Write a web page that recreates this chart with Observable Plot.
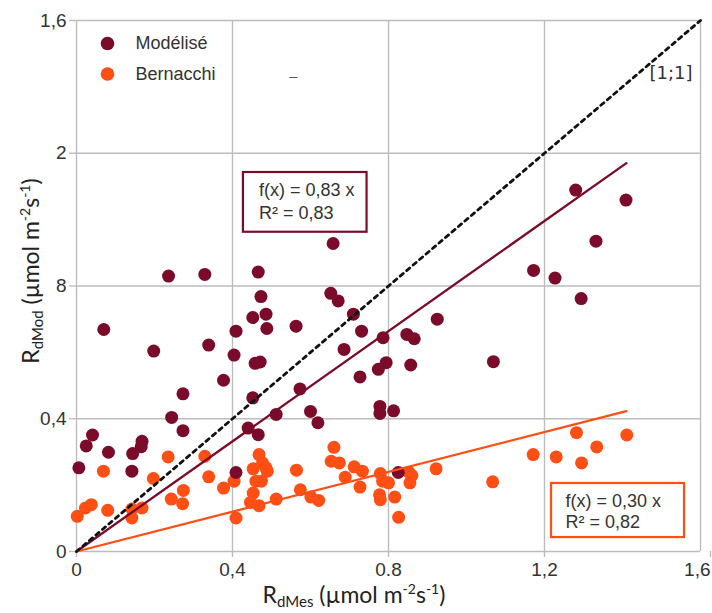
<!DOCTYPE html>
<html>
<head>
<meta charset="utf-8">
<script src="https://cdn.jsdelivr.net/npm/d3@7"></script>
<script src="https://cdn.jsdelivr.net/npm/@observablehq/plot@0.6"></script>
<style>
  html, body { margin: 0; padding: 0; background: #fff; }
  #chart svg { display: block; }
</style>
</head>
<body>
<div id="chart"></div>
<script>
// Series names and their colours
const seriesNames = ["Modélisé", "Bernacchi"];
const seriesColors = ["#7a0b2b", "#ff4f14"];

// Modelled dark respiration vs measured: [RdMes, RdMod]
const modelise = [
  [0.658, 0.928], [0.236, 0.830], [0.329, 0.835], [0.466, 0.842], [0.473, 0.768],
  [0.652, 0.778], [0.671, 0.755], [0.452, 0.705], [0.486, 0.715], [0.488, 0.672],
  [0.563, 0.679], [0.710, 0.715], [0.731, 0.664], [0.070, 0.669], [0.409, 0.664],
  [0.198, 0.604], [0.339, 0.622], [0.404, 0.592], [0.458, 0.567], [0.471, 0.571],
  [0.686, 0.609], [0.786, 0.644], [0.794, 0.569], [0.774, 0.549], [0.727, 0.526],
  [0.377, 0.516], [0.273, 0.475], [0.452, 0.463], [0.573, 0.490], [0.512, 0.413],
  [0.600, 0.422], [0.619, 0.388], [0.778, 0.437], [0.778, 0.416], [0.813, 0.424],
  [0.244, 0.404], [0.273, 0.364], [0.440, 0.372], [0.466, 0.352], [0.041, 0.351],
  [0.025, 0.318], [0.082, 0.299], [0.168, 0.332], [0.166, 0.316], [0.144, 0.295],
  [0.006, 0.252], [0.142, 0.242], [0.409, 0.238], [0.825, 0.238], [1.280, 1.089],
  [1.409, 1.059], [1.332, 0.935], [1.172, 0.847], [1.227, 0.824], [1.294, 0.762],
  [0.925, 0.700], [0.847, 0.654], [0.866, 0.641], [0.857, 0.562], [1.069, 0.572]
];

// Bernacchi model vs measured: [RdMes, RdMod]
const bernacchi = [
  [0.660, 0.314], [0.653, 0.272], [0.674, 0.267], [0.468, 0.292], [0.477, 0.267],
  [0.486, 0.252], [0.489, 0.242], [0.453, 0.249], [0.460, 0.212], [0.474, 0.212],
  [0.453, 0.176], [0.446, 0.148], [0.468, 0.138], [0.409, 0.101], [0.404, 0.212],
  [0.377, 0.191], [0.339, 0.225], [0.329, 0.287], [0.235, 0.285], [0.069, 0.242],
  [0.197, 0.220], [0.243, 0.158], [0.274, 0.184], [0.272, 0.144], [0.142, 0.128],
  [0.168, 0.131], [0.142, 0.101], [0.080, 0.124], [0.038, 0.141], [0.023, 0.131],
  [0.002, 0.106], [0.512, 0.158], [0.564, 0.245], [0.574, 0.186], [0.601, 0.164],
  [0.621, 0.154], [0.689, 0.224], [0.712, 0.255], [0.733, 0.242], [0.727, 0.194],
  [0.779, 0.235], [0.785, 0.212], [0.800, 0.207], [0.777, 0.171], [0.779, 0.156],
  [0.816, 0.164], [0.826, 0.103], [0.852, 0.239], [0.860, 0.229], [0.855, 0.207],
  [0.922, 0.249], [1.067, 0.210], [1.171, 0.292], [1.230, 0.285], [1.282, 0.358],
  [1.295, 0.267], [1.334, 0.315], [1.411, 0.351]
];

// Linear fits through the origin
const slopes = [0.83, 0.30];
const rSquared = ["0,83", "0,82"];
const slopeLabels = ["0,83", "0,30"];
const fitXMax = 1.41;

// Axis ticks and their printed labels
const xTicks = [0, 0.4, 0.8, 1.2, 1.6];
const xTickLabels = ["0", "0,4", "0.8", "1,2", "1,6"];
const yTicks = [0, 0.4, 0.8, 1.2, 1.6];
const yTickLabels = ["0", "0,4", "8", "2", "1,6"];

// Equation boxes (data units) for each fit
const eqBoxes = [
  {x1: 0.428, x2: 0.745, y1: 0.962, y2: 1.142, tx: 0.468, ty1: 1.088, ty2: 1.020},
  {x1: 1.218, x2: 1.559, y1: 0.042, y2: 0.205, tx: 1.254, ty1: 0.152, ty2: 0.088}
];

const fitLines = slopes.map((s, i) => ({
  series: seriesNames[i],
  pts: [[0, 0], [fitXMax, s * fitXMax]]
}));

const grey = "#bdbdbd";
const textColor = "#333";
const xLabel = d => xTickLabels[xTicks.indexOf(d)];

const chart = Plot.plot({
  width: 712,
  height: 613,
  marginLeft: 76,
  marginRight: 12,
  marginTop: 20,
  marginBottom: 62,
  x: {domain: [0, 1.6]},
  y: {domain: [0, 1.6]},
  style: {fontFamily: "'Liberation Sans', Arial, sans-serif", color: textColor, background: "#fff"},
  marks: [
    Plot.gridX(xTicks, {stroke: grey, strokeOpacity: 1, strokeWidth: 1.4}),
    Plot.gridY(yTicks, {stroke: grey, strokeOpacity: 1, strokeWidth: 1.4}),
    Plot.axisX(xTicks.slice(0, -1), {
      tickFormat: xLabel,
      tickSize: 6, tickPadding: 5, stroke: grey, strokeWidth: 1.4,
      fontSize: 19, label: null
    }),
    // last label sits a little inside the right edge
    Plot.axisX(xTicks.slice(-1), {
      tickFormat: xLabel, textAnchor: "end", dx: 10,
      tickSize: 6, tickPadding: 5, stroke: grey, strokeWidth: 1.4,
      fontSize: 19, label: null
    }),
    Plot.axisY(yTicks, {
      tickFormat: d => yTickLabels[yTicks.indexOf(d)],
      tickSize: 7, tickPadding: 3, stroke: grey, strokeWidth: 1.4,
      fontSize: 19, label: null
    }),
    // scatter
    Plot.dot(bernacchi, {x: d => d[0], y: d => d[1], r: 6.5, fill: seriesColors[1], stroke: "none"}),
    Plot.dot(modelise, {x: d => d[0], y: d => d[1], r: 6.5, fill: seriesColors[0], stroke: "none"}),
    // fitted lines
    ...fitLines.map((f, i) => Plot.line(f.pts, {
      x: d => d[0], y: d => d[1], stroke: seriesColors[i], strokeWidth: 2.3
    })),
    // 1:1 reference line
    Plot.line([[0, 0], [1.6, 1.6]], {
      x: d => d[0], y: d => d[1], stroke: "#111", strokeWidth: 2.8, strokeDasharray: "4,4.5"
    }),
    Plot.text(["[1;1]"], {
      frameAnchor: "top-right", dx: -8, dy: 53, textAnchor: "end", lineAnchor: "middle",
      fontFamily: "'DejaVu Sans', sans-serif", fontSize: 18, fill: textColor
    }),
    // equation boxes
    ...eqBoxes.map((b, i) => Plot.rect([b], {
      x1: "x1", x2: "x2", y1: "y1", y2: "y2",
      fill: "#fff", stroke: seriesColors[i], strokeWidth: 2.2
    })),
    ...eqBoxes.map((b, i) => Plot.text([b], {
      x: "tx", y: "ty1", text: () => `f(x) = ${slopeLabels[i]} x`,
      textAnchor: "start", fontSize: 18, fill: textColor
    })),
    ...eqBoxes.map((b, i) => Plot.text([b], {
      x: "tx", y: "ty2", text: () => `R² = ${rSquared[i]}`,
      textAnchor: "start", fontSize: 18, fill: textColor
    })),
    // legend
    ...seriesNames.map((name, i) => Plot.dot([name], {
      frameAnchor: "top-left", dx: 31, dy: 23 + i * 30.5, r: 6.8, fill: seriesColors[i]
    })),
    ...seriesNames.map((name, i) => Plot.text([name], {
      frameAnchor: "top-left", dx: 59, dy: 23 + i * 30.5, textAnchor: "start",
      lineAnchor: "middle", fontSize: 18, fill: textColor
    })),
    Plot.text(["_"], {
      frameAnchor: "top-left", dx: 217, dy: 50, textAnchor: "middle",
      lineAnchor: "middle", fontSize: 14, fill: "#555"
    })
  ]
});

// Axis titles with sub/superscripts
const svg = d3.select(chart);
const titleFont = "Lato, 'Open Sans', sans-serif";

function axisTitle(sel, sub) {
  sel.attr("text-anchor", "middle")
    .attr("font-family", titleFont).attr("font-size", 23).attr("fill", "#222");
  sel.append("tspan").text("R");
  sel.append("tspan").attr("dy", 4).attr("font-size", 15).text(sub);
  sel.append("tspan").attr("dy", -4).text(" (µmol m");
  sel.append("tspan").attr("dy", -9).attr("font-size", 14).text("-2");
  sel.append("tspan").attr("dy", 9).text("s");
  sel.append("tspan").attr("dy", -9).attr("font-size", 14).text("-1");
  sel.append("tspan").attr("dy", 9).text(")");
}

axisTitle(svg.append("text").attr("x", 354).attr("y", 603), "dMes");
axisTitle(svg.append("text").attr("transform", "translate(39,271) rotate(-90)"), "dMod");

document.getElementById("chart").appendChild(chart);
</script>
</body>
</html>
